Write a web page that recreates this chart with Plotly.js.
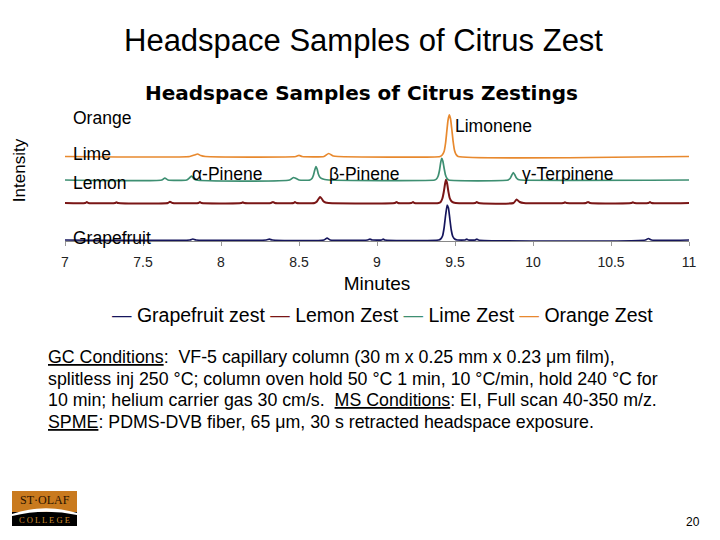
<!DOCTYPE html>
<html><head><meta charset="utf-8">
<script src="https://cdn.plot.ly/plotly-3.0.1.min.js"></script>
<style>html,body{margin:0;padding:0;background:#fff;}#chart{width:720px;height:540px;}</style>
</head><body><div id="chart"></div>
<script>
// ---- data (minutes, intensity in arbitrary units) ----
const seriesNames = ["Grapefruit zest", "Lemon Zest", "Lime Zest", "Orange Zest"];
const sampleLabels = ["Grapefruit", "Lemon", "Lime", "Orange"];

const grapefruitT = [7.0, 7.80, 7.82, 7.84, 8.29, 8.31, 8.33, 8.66, 8.68, 8.70, 8.94, 8.955, 8.97, 9.03, 9.04, 9.05,
  9.395, 9.408, 9.42, 9.43, 9.44, 9.45, 9.458, 9.467, 9.476, 9.486, 9.498, 9.515,
  9.565, 9.575, 9.585, 9.63, 9.64, 9.65, 10.72, 10.74, 10.76, 11.0];
const grapefruitI = [0, 0, 1, 0, 0, 0.8, 0, 0, 2, 0, 0, 0.8, 0, 0, 0.8, 0,
  0, 1, 4, 12, 25, 35, 32, 21, 10, 3.5, 1, 0,
  0, 0.8, 0, 0, 1, 0, 0, 1.5, 0, 0];

const lemonT = [7.0, 7.13, 7.14, 7.15, 7.32, 7.33, 7.34, 7.66, 7.673, 7.69, 7.855, 7.865, 7.875, 8.13, 8.14, 8.15,
  8.32, 8.333, 8.345, 8.465, 8.474, 8.485,
  8.60, 8.615, 8.625, 8.635, 8.645, 8.655, 8.67, 8.69,
  9.115, 9.126, 9.135, 9.22, 9.231, 9.24,
  9.395, 9.408, 9.419, 9.428, 9.436, 9.442, 9.449, 9.457, 9.466, 9.476, 9.49, 9.505,
  9.63, 9.639, 9.65, 9.875, 9.895, 9.915, 9.94,
  10.195, 10.205, 10.215, 10.34, 10.353, 10.365, 10.63, 10.64, 10.65, 10.74, 10.75, 10.76, 11.0];
const lemonI = [0, 0, 1, 0, 0, 0.8, 0, 0, 1.3, 0, 0, 1, 0, 0, 0.8, 0,
  0, 1, 0, 0, 1, 0,
  0, 1.5, 4, 6, 4.5, 2, 0.5, 0,
  0, 1, 0, 0, 1, 0,
  0, 1, 4.5, 11, 19, 23.3, 20, 12, 5, 2, 0.5, 0,
  0, 1, 0, 0, 3.5, 1, 0,
  0, 0.8, 0, 0, 1, 0, 0, 0.8, 0, 0, 1, 0, 0];

const limeT = [7.0, 7.62, 7.64, 7.66, 7.78, 7.80, 7.812, 7.825, 7.84, 8.44, 8.465, 8.475, 8.50,
  8.57, 8.583, 8.593, 8.601, 8.609, 8.616, 8.624, 8.633, 8.645, 8.665, 8.69,
  9.37, 9.381, 9.392, 9.401, 9.409, 9.415, 9.422, 9.43, 9.439, 9.449, 9.46,
  9.84, 9.853, 9.863, 9.874, 9.884, 9.894, 9.905, 9.92, 11.0];
const limeI = [0, 0, 2, 0, 0, 2.5, 4, 1.5, 0, 0, 2.5, 2, 0,
  0, 1.5, 5, 10, 13.3, 11, 6, 3, 1.5, 0.5, 0,
  0, 1, 4, 10, 18, 21.7, 19, 12, 5, 1.5, 0,
  0, 1.5, 4.5, 7.5, 5, 2, 0.5, 0, 0];

const orangeT = [7.0, 7.80, 7.83, 7.85, 7.87, 7.90, 8.48, 8.50, 8.52, 8.66, 8.69, 8.72, 8.75,
  9.405, 9.418, 9.43, 9.44, 9.448, 9.455, 9.463, 9.471, 9.479, 9.488, 9.497, 9.507, 9.52, 11.0];
const orangeI = [0, 0, 1.5, 2.5, 1, 0, 0, 1.2, 0, 0, 3, 0.5, 0,
  0, 1.5, 5, 14, 26, 36, 41.7, 38, 28, 15, 6, 2, 0, 0];

const peakLabels = ["\u03b1-Pinene", "\u03b2-Pinene", "Limonene", "\u03b3-Terpinene"];
const xTickVals = [7, 7.5, 8, 8.5, 9, 9.5, 10, 10.5, 11];
const xTickText = ["7", "7.5", "8", "8.5", "9", "9.5", "10", "10.5", "11"];

// ---- styling / placement ----
const colors = ["#15155c", "#7a1616", "#3e8f72", "#e8892e"];
const offsets = [1, 38, 61, 84.5];   // vertical stacking of traces
const widths = [1.7, 2, 1.7, 1.7];
const seriesT = [grapefruitT, lemonT, limeT, orangeT];
const seriesI = [grapefruitI, lemonI, limeI, orangeI];

const L = 65, R = 31, T = 100, B = 299, W = 720, H = 540;
const pw = W - L - R, ph = H - T - B;
const px = x => (x - L) / pw;
const py = y => (H - B - y) / ph;
const F = "Liberation Sans, Arial, sans-serif";

const traces = seriesNames.map((n, k) => ({
  type: "scatter", mode: "lines", name: n,
  x: seriesT[k],
  y: seriesI[k].map(v => v + offsets[k]),
  line: {color: colors[k], width: widths[k], shape: "spline", smoothing: 0.5},
  showlegend: false, hoverinfo: "x+name"
}));

const ann = [];
function txt(text, x, y, size, opts) {
  ann.push(Object.assign({text: text, xref: "paper", yref: "paper", x: px(x), y: py(y),
    showarrow: false, xanchor: "left", yanchor: "middle",
    font: {family: F, size: size, color: "#000"}}, opts || {}));
}
// slide title
txt("Headspace Samples of Citrus Zest", 363, 40, 31, {xanchor: "center"});
// chart title
txt("<b>Headspace Samples of Citrus Zestings</b>", 361, 93, 20,
  {xanchor: "center", font: {family: "DejaVu Sans, sans-serif", size: 20, color: "#000"}});
// sample labels
const sampleY = [238, 183, 154, 118];
sampleLabels.forEach((s, k) => txt(s, 71, sampleY[k], 17.5));
// peak labels
const peakPos = [[190, 174], [327, 174], [453, 126], [520, 174]];
peakLabels.forEach((p, k) => txt(p, peakPos[k][0], peakPos[k][1], 17.5));
// legend built from series names
const legendText = seriesNames.map((n, k) =>
  "<span style='color:" + colors[k] + "'>\u2014</span> " + n).join(" ");
txt(legendText, 382, 315, 19.5, {xanchor: "center"});
// conditions text
const cond = [
  "<u>GC Conditions</u>:  VF-5 capillary column (30 m x 0.25 mm x 0.23 \u03bcm film),",
  "splitless inj 250 \u00b0C; column oven hold 50 \u00b0C 1 min, 10 \u00b0C/min, hold 240 \u00b0C for",
  "10 min; helium carrier gas 30 cm/s.  <u>MS Conditions</u>: EI, Full scan 40-350 m/z.",
  "<u>SPME</u>: PDMS-DVB fiber, 65 \u03bcm, 30 s retracted headspace exposure."
];
const condY = [357, 379, 400, 422];
cond.forEach((c, k) => txt(c, 46, condY[k], 17.8));
// page number
txt("20", 693, 522, 12, {xanchor: "center"});
// logo text
txt("ST\u00b7OLAF", 44.5, 500, 11, {xanchor: "center", font: {family: "Liberation Serif, serif", size: 12, color: "#2a1200"}});
txt("C O L L E G E", 44.5, 520, 8, {xanchor: "center", font: {family: "Liberation Serif, serif", size: 8.5, color: "#d08a2a"}});

const shapes = [
  {type: "rect", xref: "paper", yref: "paper", x0: px(12), x1: px(77), y0: py(491), y1: py(512),
    fillcolor: "#c97a1e", line: {width: 0}, layer: "above"},
  {type: "rect", xref: "paper", yref: "paper", x0: px(12), x1: px(77), y0: py(512), y1: py(526),
    fillcolor: "#000", line: {width: 0}, layer: "above"},
  {type: "path", xref: "paper", yref: "paper", layer: "above", line: {width: 0}, fillcolor: "#fff",
    path: "M " + px(12) + "," + py(514) + " Q " + px(44.5) + "," + py(503) + " " + px(77) + "," + py(513) +
      " L " + px(77) + "," + py(515) + " Q " + px(44.5) + "," + py(508) + " " + px(12) + "," + py(516) + " Z"}
];

const layout = {
  width: W, height: H, margin: {l: L, r: R, t: T, b: B},
  paper_bgcolor: "#fff", plot_bgcolor: "#fff", showlegend: false,
  xaxis: {range: [7, 11], tickvals: xTickVals, ticktext: xTickText, showgrid: false, zeroline: false,
    showline: true, linecolor: "#888", linewidth: 1, ticks: "outside", ticklen: 4, tickcolor: "#999",
    ticklabelstandoff: 4, tickfont: {family: F, size: 14, color: "#222"},
    title: {text: "Minutes", font: {family: F, size: 19, color: "#000"}, standoff: 7}},
  yaxis: {range: [0, 141], showticklabels: false, showgrid: false, zeroline: false, showline: false, ticks: "",
    title: {text: "Intensity", font: {family: F, size: 17, color: "#000"}, standoff: 34}},
  annotations: ann, shapes: shapes
};
Plotly.newPlot("chart", traces, layout, {displayModeBar: false, staticPlot: true});
</script></body></html>
